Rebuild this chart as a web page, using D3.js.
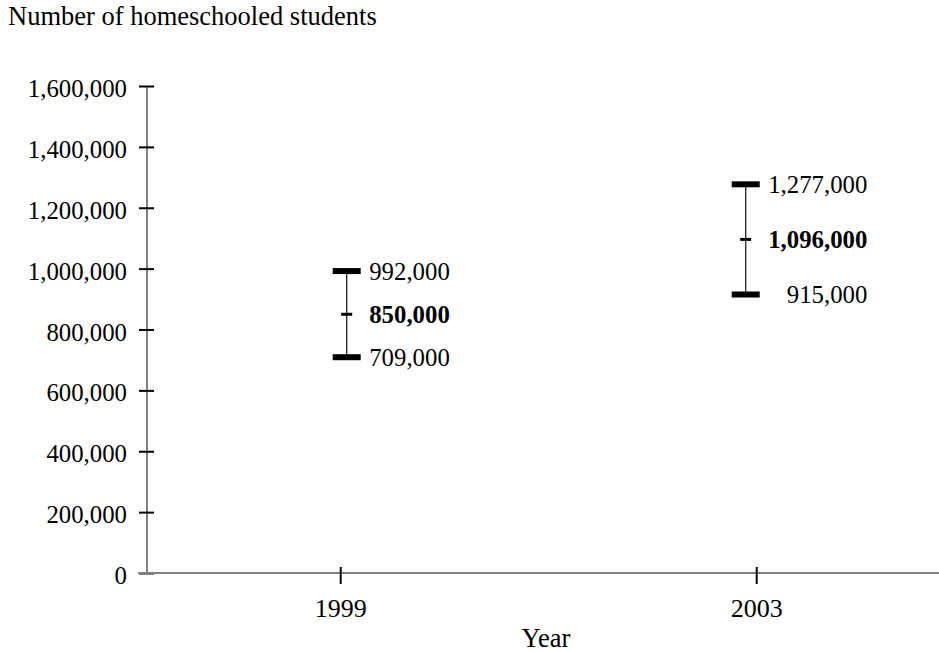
<!DOCTYPE html>
<html>
<head>
<meta charset="utf-8">
<script src="https://cdn.jsdelivr.net/npm/d3@7"></script>
<style>
  html, body { margin: 0; padding: 0; background: #fff; }
  text { font-family: "Liberation Serif", "Times New Roman", serif; fill: #000; }
</style>
</head>
<body>
<svg id="chart" width="939" height="652"></svg>
<script>
// ---- data ----
const years = ["1999", "2003"];
const estimates = [850000, 1096000];
const lowerBounds = [709000, 915000];
const upperBounds = [992000, 1277000];
const yTickValues = [0, 200000, 400000, 600000, 800000, 1000000, 1200000, 1400000, 1600000];
const titleText = "Number of homeschooled students";
const xAxisTitle = "Year";

// ---- layout ----
const W = 939, H = 652;
const axisX = 146.5, axisY = 573, topY = 86;
const textSize = 26.5, numSize = 24.8, yearSize = 26;
const barShift = [6, -11];

const svg = d3.select("#chart");

const y = d3.scaleLinear().domain([0, 1600000]).range([axisY, topY]);
const x = d3.scalePoint().domain(years).range([340.7, 756.7]);

// title
svg.append("text").attr("x", 8).attr("y", 25)
  .style("font-size", textSize + "px").text(titleText);

// y axis
const yAxisG = svg.append("g").attr("transform", `translate(${axisX},0)`)
  .call(d3.axisLeft(y).tickValues(yTickValues).tickFormat(d3.format(",")).tickSizeOuter(0));
yAxisG.select(".domain").attr("stroke", "#808080").attr("stroke-width", 2);
yAxisG.selectAll(".tick line").attr("x1", -7.5).attr("x2", 7.5)
  .attr("stroke", "#000").attr("stroke-width", 2);
yAxisG.selectAll(".tick text").attr("x", -19.5).attr("dy", null).attr("y", 10.5)
  .style("font-size", numSize + "px").attr("font-family", null);

// x axis line
svg.append("line").attr("x1", 138).attr("x2", W).attr("y1", axisY).attr("y2", axisY)
  .attr("stroke", "#808080").attr("stroke-width", 2);
// x ticks
const xt = svg.append("g").selectAll("g").data(years).join("g")
  .attr("transform", d => `translate(${x(d)},0)`);
xt.append("line").attr("y1", axisY - 6).attr("y2", axisY + 11)
  .attr("stroke", "#000").attr("stroke-width", 2);
xt.append("text").attr("y", axisY + 44).attr("text-anchor", "middle")
  .style("font-size", yearSize + "px").text(d => d);

svg.append("text").attr("x", 546).attr("y", 647).attr("text-anchor", "middle")
  .style("font-size", textSize + "px").text(xAxisTitle);

// error bars
const fmt = d3.format(",");
years.forEach((yr, i) => {
  const cx = x(yr) + barShift[i];
  const g = svg.append("g");
  g.append("line").attr("x1", cx).attr("x2", cx)
    .attr("y1", y(upperBounds[i])).attr("y2", y(lowerBounds[i]))
    .attr("stroke", "#222").attr("stroke-width", 1.3);
  [upperBounds[i], lowerBounds[i]].forEach(v => {
    g.append("rect").attr("x", cx - 14).attr("y", y(v) - 3)
      .attr("width", 28).attr("height", 6).attr("fill", "#000");
  });
  g.append("rect").attr("x", cx - 5.5).attr("y", y(estimates[i]) - 1.5)
    .attr("width", 11).attr("height", 3).attr("fill", "#000");

  const labels = [
    { v: upperBounds[i], bold: false },
    { v: estimates[i], bold: true },
    { v: lowerBounds[i], bold: false }
  ];
  const texts = labels.map(l => g.append("text")
    .attr("y", y(l.v) + 8.5)
    .attr("text-anchor", "end")
    .style("font-size", numSize + "px")
    .style("font-weight", l.bold ? "bold" : "normal")
    .text(fmt(l.v)));
  const maxW = d3.max(texts, t => t.node().getComputedTextLength());
  texts.forEach(t => t.attr("x", cx + 22.5 + maxW));
});
</script>
</body>
</html>
